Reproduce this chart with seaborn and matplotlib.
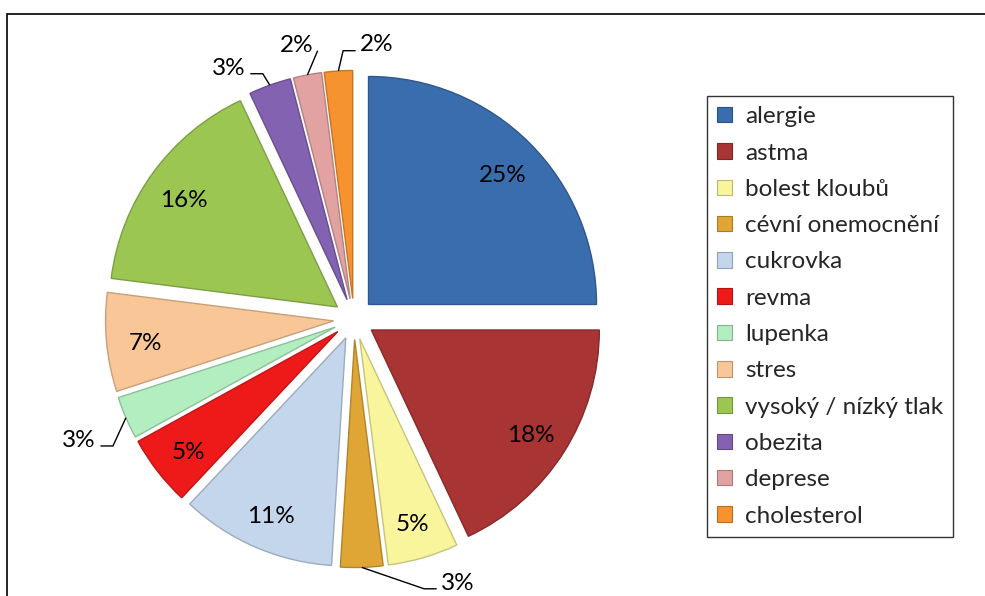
import numpy as np
import seaborn as sns
import matplotlib.pyplot as plt
from matplotlib.patches import Rectangle, Patch
from matplotlib.colors import to_rgb


# Data z grafu (podíl v %)
kategorie = ["alergie", "astma", "bolest kloubů", "cévní onemocnění", "cukrovka",
             "revma", "lupenka", "stres", "vysoký / nízký tlak", "obezita",
             "deprese", "cholesterol"]
podily = [25, 18, 5, 3, 11, 5, 3, 7, 16, 3, 2, 2]
barvy = ["#3A6DAE", "#A83434", "#F8F59C", "#DFA535", "#C3D6EC", "#EE1A1A",
         "#B2EEC0", "#F9C797", "#9CC652", "#8462B2", "#E2A2A2", "#F7932F"]

# Popisky mimo výseč: (posun úhlu ve stupních, vzdálenost od středu)
popisky_venku = {
    "cévní onemocnění": (19.7, 1.245),
    "lupenka": (0.4, 1.318),
    "obezita": (6.7, 1.23),
    "deprese": (1.1, 1.228),
    "cholesterol": (-8.4, 1.206),
}

sns.set_theme(style="white")
plt.rcParams["font.family"] = ["Lato", "DejaVu Sans"]

W, H = 985, 596
fig = plt.figure(figsize=(W / 100, H / 100), dpi=100)
fig.patch.set_facecolor("white")

# osa koláče: střed (354, 319) px, poloměr 228 px
cx, cy, rpx, lim = 354, 319, 228, 1.5
ax = fig.add_axes([(cx - lim * rpx) / W, (H - cy - lim * rpx) / H,
                   2 * lim * rpx / W, 2 * lim * rpx / H])

wedges, _ = ax.pie(podily, colors=barvy, startangle=90, counterclock=False,
                   explode=[0.09] * len(podily), radius=1.0)
for w, c in zip(wedges, barvy):
    tmavsi = tuple(v * 0.8 for v in to_rgb(c))
    w.set_edgecolor(tmavsi)
    w.set_linewidth(1.0)

ax.set_xlim(-lim, lim)
ax.set_ylim(-lim, lim)
ax.set_aspect("equal")
ax.axis("off")

fs = 17.5
fig.canvas.draw()
renderer = fig.canvas.get_renderer()

for w, nazev, p in zip(wedges, kategorie, podily):
    stred = np.deg2rad((w.theta1 + w.theta2) / 2)
    sx, sy = w.center
    text = f"{p}%"
    if nazev not in popisky_venku:
        ax.text(sx + 0.83 * np.cos(stred), sy + 0.83 * np.sin(stred) - 0.02, text,
                ha="center", va="center", fontsize=fs, color="black")
        continue
    posun, r = popisky_venku[nazev]
    uhel = stred + np.deg2rad(posun)
    tx, ty = r * np.cos(uhel), r * np.sin(uhel)
    t = ax.text(tx, ty, text, ha="center", va="center", fontsize=fs, color="black")
    bb = t.get_window_extent(renderer).transformed(ax.transData.inverted())
    # vodicí čára: okraj výseče -> zalomení -> text
    px, py = sx + np.cos(stred), sy + np.sin(stred)
    ly = ty - 0.025
    if tx < px:
        konec = bb.x1 + 0.02
        zlom = konec + 0.055 if konec + 0.055 < px else konec
    else:
        konec = bb.x0 - 0.02
        zlom = konec - 0.055 if konec - 0.055 > px else konec
    ax.plot([px, zlom, konec], [py, ly, ly], color="black", lw=1.0,
            solid_capstyle="butt")

# legenda
handles = [Patch(facecolor=c, edgecolor=tuple(v * 0.75 for v in to_rgb(c)), lw=0.8)
           for c in barvy]
leg = fig.legend(handles, kategorie, loc="upper left",
                 bbox_to_anchor=(707 / W, 1 - 96 / H), borderaxespad=0,
                 fontsize=fs, frameon=True, fancybox=False, handlelength=0.6,
                 handleheight=0.6, handletextpad=0.55, labelspacing=0.63,
                 borderpad=0.42)
leg.get_frame().set_edgecolor("black")
leg.get_frame().set_linewidth(1.0)

# rámeček grafu (oříznutý vpravo a dole)
fig.patches.append(Rectangle((7 / W, -0.1), 1.2, (H - 14) / H + 0.1,
                             transform=fig.transFigure, fill=False,
                             edgecolor="black", lw=1.2))

fig.savefig("out.png", dpi=100)
